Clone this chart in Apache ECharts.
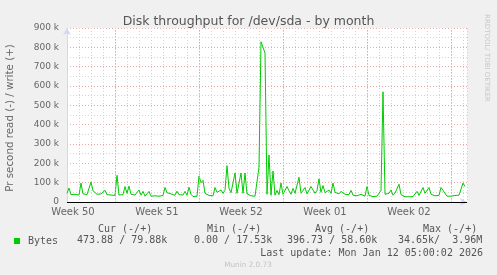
<!DOCTYPE html>
<html><head><meta charset="utf-8">
<script src="https://cdn.jsdelivr.net/npm/echarts@6/dist/echarts.min.js"></script>
<style>html,body{margin:0;padding:0;background:#F0F0F0;}#c{width:497px;height:275px;}</style>
</head><body><div id="c"></div>
<script>
// Write throughput (bytes/s, in thousands), one value every 4 hours, left to right
const writeK = [
 45,72,38,34,40,33,36,98,42,50,38,45,103,58,62,40,36,42,34,60,
 38,32,36,30,34,138,36,32,38,80,45,82,40,34,36,30,62,35,55,30,
 28,55,30,27,32,28,30,27,34,75,48,38,42,52,35,56,38,34,36,55,
 35,76,40,28,27,30,134,100,112,45,38,34,36,32,75,50,40,62,45,60,
 188,70,48,38,150,45,40,150,45,150,42,38,32,40,30,35,180,829,800,770,
 40,243,35,160,35,60,38,98,40,36,80,58,40,70,45,40,128,45,40,75,
 42,50,80,75,45,60,120,50,85,48,40,62,45,98,50,60,42,55,45,40,
 46,38,60,36,45,32,30,40,32,30,80,34,30,28,32,30,34,60,570,40,
 30,45,62,35,46,40,92,38,28,27,30,27,32,28,30,55,34,40,75,45,
 38,75,40,35,32,36,34,75,60,62,30,28,30,27,34,36,35,38,98,80
];
const startHour = 72;      // hours after Sun 7 Dec 2025 00:00
const endHour = 872;
const stepHours = 4;
const weekStarts = [168, 336, 504, 672, 840];
const weekLabelPos = [84, 252, 420, 588, 756];
const weekLabels = ['Week 50', 'Week 51', 'Week 52', 'Week 01', 'Week 02'];
const legendHeaders = ['Cur (-/+)', 'Min (-/+)', 'Avg (-/+)', 'Max (-/+)'];
const legendValues = ['473.88 / 79.88k', '0.00 / 17.53k', '396.73 / 58.60k', '34.65k/  3.96M'];

const seriesData = writeK.map((v, i) => [startHour + i * stepHours, v * 1000]);

const chart = echarts.init(document.getElementById('c'), null, {renderer: 'canvas'});
const sans = 'DejaVu Sans';
const mono = 'DejaVu Sans Mono';
const hdrX = [98, 207, 315, 423];
const valX = [77, 194, 287, 398];
const graphics = [];
legendHeaders.forEach((t, i) => graphics.push({type: 'text', left: hdrX[i], top: 224, style: {text: t, font: '10px "DejaVu Sans Mono"', fill: '#555'}}));
legendValues.forEach((t, i) => graphics.push({type: 'text', left: valX[i], top: 235, style: {text: t, font: '10px "DejaVu Sans Mono"', fill: '#555'}}));
graphics.push({type: 'text', right: 14, top: 248, style: {text: 'Last update: Mon Jan 12 05:00:02 2026', font: '10px "DejaVu Sans Mono"', fill: '#555'}});
graphics.push({type: 'text', x: 248, y: 265, style: {text: 'Munin 2.0.73', font: '7.3px "DejaVu Sans"', fill: '#c4c4c4', align: 'center', verticalAlign: 'middle'}});
graphics.push({type: 'text', x: 10, y: 118, rotation: Math.PI / 2, style: {text: 'Pr second read (-) / write (+)', font: '10.3px "DejaVu Sans"', fill: '#666', align: 'center', verticalAlign: 'middle'}});
graphics.push({type: 'text', x: 487, y: 58, rotation: -Math.PI / 2, style: {text: 'RRDTOOL/ TOBI OETIKER', font: '7px "DejaVu Sans"', fill: '#c8c8c8', align: 'center', verticalAlign: 'middle'}});

chart.setOption({
  backgroundColor: '#F0F0F0',
  animation: false,
  title: {text: 'Disk throughput for /dev/sda - by month', left: 'center', top: 10,
    textStyle: {fontFamily: sans, fontSize: 12.5, fontWeight: 'normal', color: '#555'}},
  legend: {data: ['Bytes'], left: 14, top: 236, padding: 0, icon: 'rect', itemWidth: 6, itemHeight: 6,
    textStyle: {fontFamily: mono, fontSize: 10, color: '#555', padding: [0, 0, 0, 3]}},
  grid: {left: 67, right: 30, top: 28, bottom: 73, show: true, backgroundColor: '#fff', borderWidth: 0},
  xAxis: {
    type: 'value', min: startHour, max: endHour, interval: 24,
    axisLine: {show: true, onZero: false, lineStyle: {color: '#CFD6F8', width: 1}, symbol: ['none', 'arrow'], symbolSize: [6, 7]},
    axisTick: {show: false},
    axisLabel: {customValues: weekLabelPos, formatter: v => weekLabels[weekLabelPos.indexOf(v)] || '',
      fontFamily: sans, fontSize: 10, color: '#666', margin: 5, hideOverlap: false},
    splitLine: {show: true, lineStyle: {color: '#d4d4d4', type: [1, 2], width: 1}}
  },
  yAxis: {
    type: 'value', min: 0, max: 900000, interval: 100000,
    axisLine: {show: true, lineStyle: {color: '#CFD6F8', width: 1}, symbol: ['none', 'arrow'], symbolSize: [6, 7]},
    axisTick: {show: false},
    axisLabel: {formatter: v => v === 0 ? '0' : (v / 1000) + ' k', fontFamily: sans, fontSize: 9, color: '#666', margin: 8},
    splitLine: {show: true, lineStyle: {color: '#e8a8a8', type: [1, 2], width: 1}},
    minorTick: {show: false, splitNumber: 2},
    minorSplitLine: {show: true, lineStyle: {color: '#d4d4d4', type: [1, 2], width: 1}}
  },
  graphic: graphics,
  series: [{
    name: 'Bytes', type: 'line', data: seriesData, showSymbol: false, symbol: 'none',
    lineStyle: {color: '#00CC00', width: 1}, itemStyle: {color: '#00CC00'},
    markLine: {silent: true, symbol: 'none', label: {show: false}, animation: false,
      data: weekStarts.map(h => ({xAxis: h, lineStyle: {color: '#e8a8a8', type: [1, 2], width: 1}}))
        .concat([{yAxis: 0, lineStyle: {color: '#000', type: 'solid', width: 1}}])}
  }]
});
</script>
</body></html>
